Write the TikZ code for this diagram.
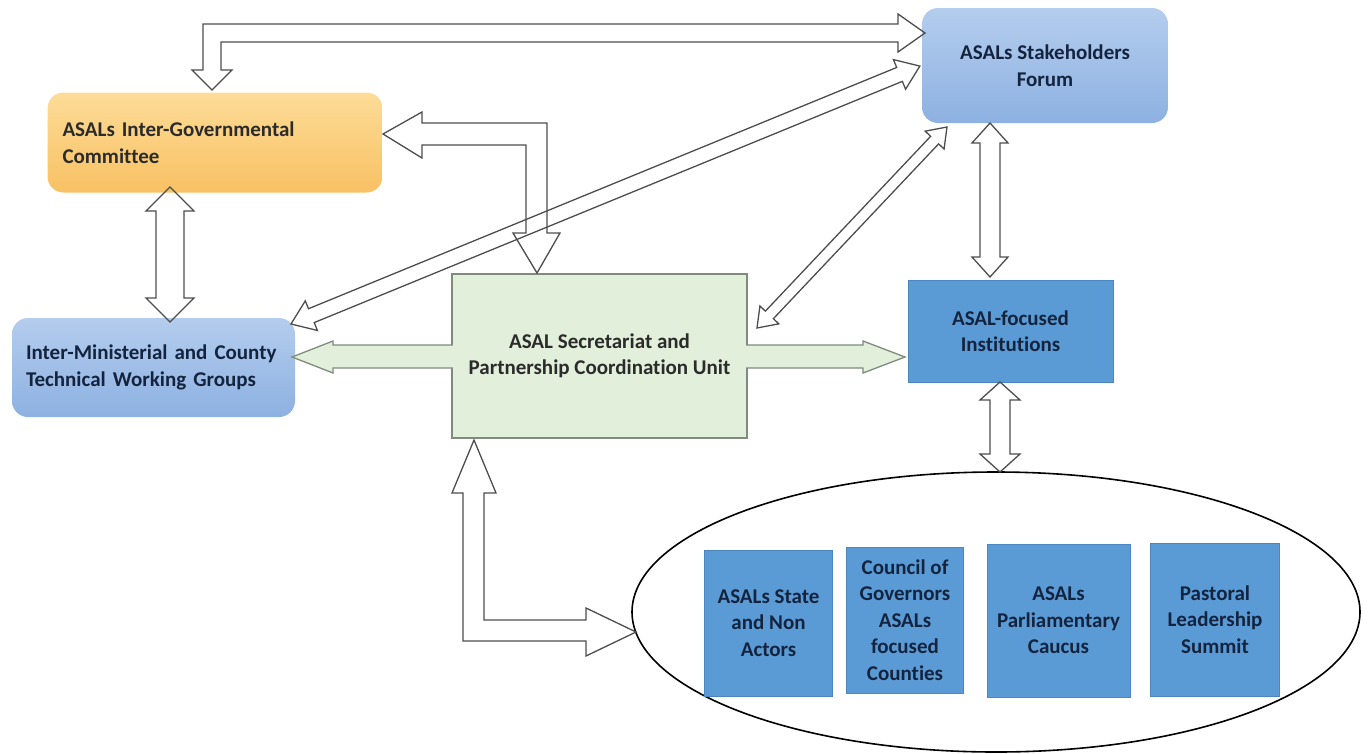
\documentclass[tikz,border=0pt]{standalone}
\usepackage{fontspec}
\setmainfont{Carlito}[Ligatures=NoCommon]
\usetikzlibrary{calc,shadings,shapes.geometric}
\definecolor{orTop}{HTML}{FDDC98}
\definecolor{orBot}{HTML}{F8C163}
\definecolor{blTop}{HTML}{B4CDEE}
\definecolor{blBot}{HTML}{8DB1E1}
\definecolor{secFill}{HTML}{E2EFDA}
\definecolor{secDraw}{HTML}{7E8C7E}
\definecolor{midBlue}{HTML}{5B9BD5}
\definecolor{midDraw}{HTML}{4A86C0}
\definecolor{txtNavy}{HTML}{14243F}
\definecolor{txtDark}{HTML}{2B2B2B}
\definecolor{arrGray}{HTML}{4D4D4D}
\newcommand\blockdbl[5]{%
  \path let \p1=($(#2)-(#1)$), \n1={veclen(\x1,\y1)}, \n2={atan2(\y1,\x1)} in
    \pgfextra{\xdef\arlen{\n1}\xdef\arang{\n2}};
  \draw[blk, shift={(#1)}, rotate=\arang] (0,0) -- (#5,#4) -- (#5,#3) -- (\arlen-#5,#3)
    -- (\arlen-#5,#4) -- (\arlen,0) -- (\arlen-#5,-#4) -- (\arlen-#5,-#3) -- (#5,-#3)
    -- (#5,-#4) -- cycle;
}
\begin{document}
\begin{tikzpicture}[x=1pt,y=-1pt,
  blk/.style={draw=arrGray, line width=1.3pt, line join=miter},
  txt/.style={inner sep=0pt, font=\bfseries\fontsize{21}{26.5}\selectfont},
  softbox/.style={txt, rounded corners=16pt},
  orbox/.style={softbox, top color=orTop, bottom color=orBot, text=txtDark},
  lbbox/.style={softbox, top color=blTop, bottom color=blBot, text=txtNavy},
  mbbox/.style={txt, fill=midBlue, draw=midDraw, line width=0.8pt, text=txtNavy, align=center},
  greenarr/.style={fill=secFill, draw=secDraw, line width=1.3pt}]
\useasboundingbox (0,0) rectangle (1368,753);

% boxes
\node[orbox, minimum width=335pt, minimum height=100pt, text width=305pt, align=left]
  (igc) at (215,142.5) {ASALs Inter-Governmental\\Committee};
\node[lbbox, minimum width=246pt, minimum height=115pt, align=center]
  (forum) at (1045,65.5) {ASALs Stakeholders\\Forum};
\node[lbbox, minimum width=283pt, minimum height=99pt, text width=255pt, align=left]
  (itwg) at (153.5,367.5) {Inter-Ministerial and County\\Technical Working Groups};
\node[txt, fill=secFill, draw=secDraw, line width=1.3pt, minimum width=295pt, minimum height=164pt,
  align=center, text=txtDark] (sec) at (599.5,356) {ASAL Secretariat and\\Partnership Coordination Unit};
\node[mbbox, minimum width=205pt, minimum height=102pt] (inst) at (1010.5,331) {ASAL-focused\\Institutions};

% ellipse group
\node[draw=black, line width=1.6pt, ellipse, minimum width=728pt, minimum height=280pt, inner sep=0pt]
  (grp) at (996,612) {};
\node[mbbox, minimum width=128pt, minimum height=146pt] (b1) at (768.5,623) {ASALs State\\and Non\\Actors};
\node[mbbox, minimum width=117pt, minimum height=146pt] (b2) at (905,620) {Council of\\Governors\\ASALs\\focused\\Counties};
\node[mbbox, minimum width=143pt, minimum height=153pt] (b3) at (1058.5,620.5) {ASALs\\Parliamentary\\Caucus};
\node[mbbox, minimum width=129pt, minimum height=153pt] (b4) at (1215,619.5) {Pastoral\\Leadership\\Summit};

% green arrows from the secretariat
\path[greenarr] (452.8,345) -- (333,345) -- (333,341) -- (292,357) -- (333,373) -- (333,368) -- (452.8,368);
\path[greenarr] (746.2,345) -- (863,345) -- (863,341) -- (905,357) -- (863,373) -- (863,368) -- (746.2,368);

% named arrow end points
\coordinate (igcS) at (170,187);
\coordinate (itwgN) at (170,322);
\coordinate (itwgNE) at (291,324);
\coordinate (forumW) at (920,66);
\coordinate (secNE) at (757,328);
\coordinate (forumSW) at (947,127);
\coordinate (forumS) at (990,123);
\coordinate (instN) at (990,277);
\coordinate (instS) at (1000,382);
\coordinate (grpN) at (1000,472);

\blockdbl{igcS}{itwgN}{14}{24}{24}
\blockdbl{itwgNE}{forumW}{7.5}{16}{22}
\blockdbl{secNE}{forumSW}{5.5}{13}{18}
\blockdbl{forumS}{instN}{10}{18}{20}
\blockdbl{instS}{grpN}{10}{20}{18}

% bent arrows
\draw[blk] (203,70) -- (203,24) -- (898,24) -- (898,14) -- (925,33) -- (898,52) -- (898,42)
  -- (221,42) -- (221,70) -- (232,70) -- (212,90) -- (192,70) -- cycle;
\draw[blk] (383,134) -- (422,112) -- (422,123) -- (547,123) -- (547,233) -- (560,233) -- (537,273)
  -- (513,233) -- (526,233) -- (526,145) -- (422,145) -- (422,158) -- cycle;
\draw[blk] (474,440) -- (496,493) -- (484,493) -- (484,620) -- (586,620) -- (586,608) -- (636,632)
  -- (586,656) -- (586,641) -- (463,641) -- (463,493) -- (452,493) -- cycle;
\end{tikzpicture}
\end{document}
